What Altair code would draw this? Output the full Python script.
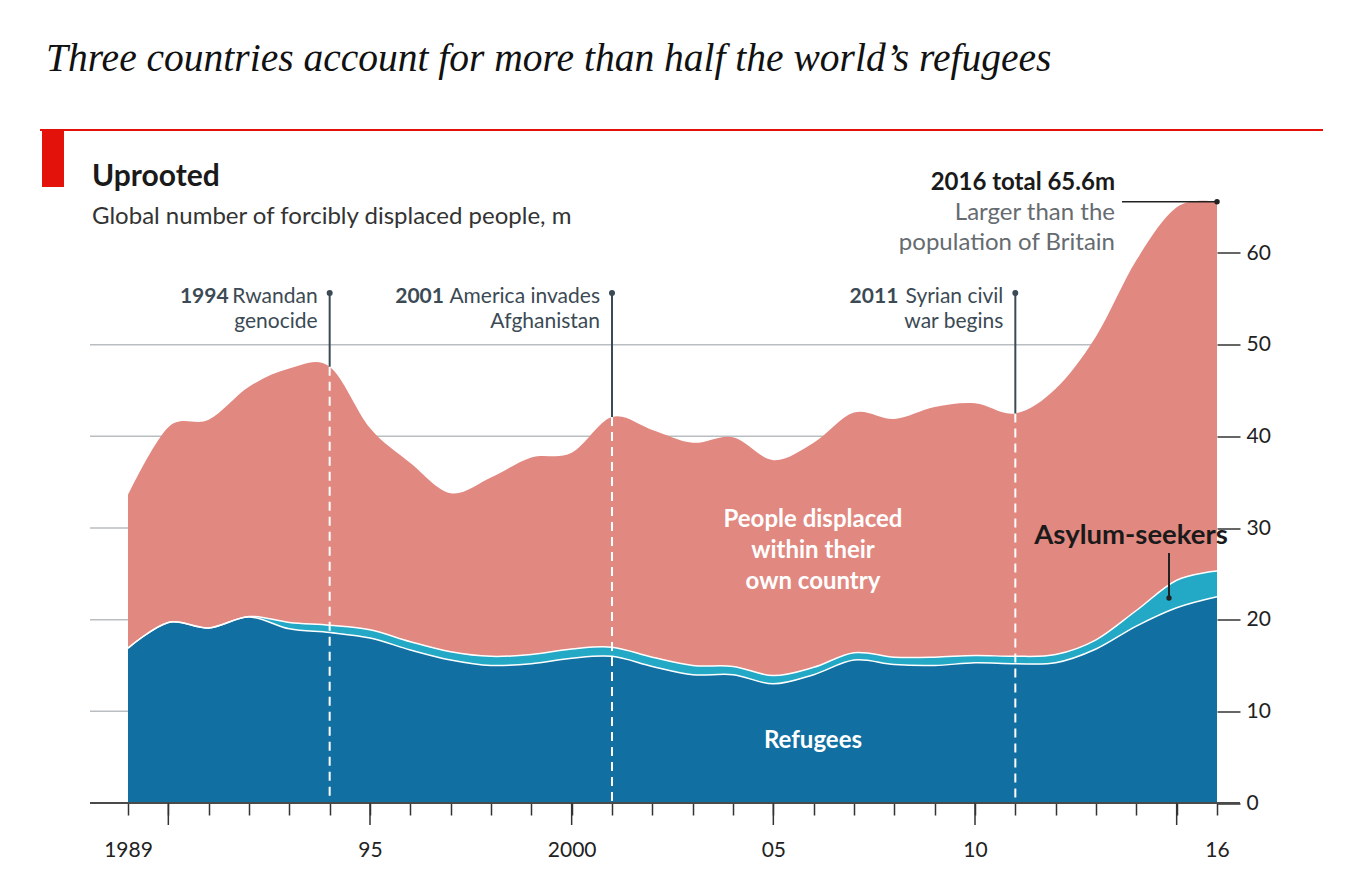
import altair as alt
import pandas as pd

# ---- data (millions) ----
years = list(range(1989, 2017))
refugees = [16.9, 19.7, 19.1, 20.3, 19.0, 18.6, 18.0, 16.7, 15.6, 15.0, 15.2, 15.8, 16.0, 14.9,
            14.0, 14.0, 13.0, 14.0, 15.6, 15.1, 15.0, 15.3, 15.2, 15.3, 16.8, 19.3, 21.3, 22.5]
asylum = [0.0, 0.0, 0.0, 0.05, 0.7, 0.8, 0.9, 0.9, 0.9, 1.0, 1.0, 1.0, 1.0, 1.0,
          1.0, 0.9, 0.9, 0.8, 0.8, 0.8, 0.9, 0.8, 0.8, 0.9, 1.0, 1.7, 3.0, 2.8]
total = [33.6, 41.0, 41.8, 45.4, 47.4, 47.6, 40.9, 37.1, 33.8, 35.5, 37.7, 38.2, 42.1, 40.7,
         39.3, 39.9, 37.4, 39.3, 42.6, 41.9, 43.2, 43.6, 42.5, 45.2, 50.9, 59.2, 65.0, 65.6]

event_years = [1994, 2001, 2011]
event_bold = ["1994", "2001", "2011"]
event_line1 = ["Rwandan", "America invades", "Syrian civil"]
event_line2 = ["genocide", "Afghanistan", "war begins"]

major_ticks = [1990, 1995, 2000, 2005, 2010, 2015]
y_ticks = [0, 10, 20, 30, 40, 50, 60]
grid_values = [10, 20, 30, 40, 50]

# ---- styling ----
REF = "#126fa1"
ASY = "#23a9c5"
IDP = "#e18880"
DARK = "#3b4a54"
SANS = "Lato"
INTERP = "cardinal"

W, H = 1127, 687.5

df = pd.DataFrame({"year": years, "refugees": refugees, "asylum": asylum, "total": total})
df["upper"] = df["refugees"] + df["asylum"]

ev = pd.DataFrame({"year": event_years, "bold": event_bold,
                   "line1": event_line1, "line2": event_line2})
ev = ev.merge(df[["year", "total"]], on="year")

xs = alt.Scale(domain=[1988.058, 2016], nice=False, zero=False)
ys = alt.Scale(domain=[0, 75], nice=False)

label_expr = ("datum.value == 1989 ? '1989' : datum.value == 1995 ? '95' : "
              "datum.value == 2000 ? '2000' : datum.value == 2005 ? '05' : "
              "datum.value == 2010 ? '10' : datum.value == 2016 ? '16' : ''")

x_axis = alt.Axis(values=years, tickSize=12, tickColor="#333", tickWidth=1.5, domain=False,
                  grid=False, labelExpr=label_expr, labelFont=SANS, labelFontSize=21,
                  labelColor="#222", labelPadding=24, labelOverlap=False, labelFlush=False,
                  title=None)
y_axis = alt.Axis(values=y_ticks, orient="right", tickSize=23, tickColor="#333", tickWidth=1.5,
                  domain=False, grid=False,
                  labelFont=SANS, labelFontSize=21, labelColor="#222", labelPadding=6,
                  title=None)


def X(field="year:Q"):
    return alt.X(field, scale=xs, axis=x_axis)


def Y(field, **kw):
    return alt.Y(field, scale=ys, axis=y_axis, **kw)


base = alt.Chart(df)

grid = alt.Chart(pd.DataFrame({"g": grid_values})).mark_rule(
    color="#b9bec2", strokeWidth=1.5).encode(
    y=Y("g:Q"), x=alt.value(0), x2=alt.value(W))

idp_area = base.mark_area(color=IDP, interpolate=INTERP).encode(
    x=X(), y=Y("total:Q"), y2="upper:Q"
)
asy_area = base.mark_area(color=ASY, interpolate=INTERP).encode(
    x=X(), y=Y("upper:Q"), y2="refugees:Q"
)
ref_area = base.mark_area(color=REF, interpolate=INTERP).encode(
    x=X(), y=Y("refugees:Q", stack=None)
)
line_ref = base.mark_line(color="white", strokeWidth=1.5, interpolate=INTERP).encode(
    x=X(), y=Y("refugees:Q")
)
line_up = base.mark_line(color="white", strokeWidth=1.5, interpolate=INTERP).encode(
    x=X(), y=Y("upper:Q")
)

baseline = alt.Chart(df).mark_rule(color="#4a4a4a", strokeWidth=2).encode(
    x=alt.value(0), x2=alt.value(1150), y=alt.value(H)
)
long_ticks = alt.Chart(pd.DataFrame({"year": major_ticks})).mark_rule(
    color="#333", strokeWidth=1.5).encode(x=X(), y=alt.value(H), y2=alt.value(H + 22))

evb = alt.Chart(ev)
dashed = evb.mark_rule(color="white", strokeWidth=2, strokeDash=[9, 6]).encode(
    x=X(), y=Y("total:Q"), y2=alt.value(H - 2)
)
pointer = evb.mark_rule(color=DARK, strokeWidth=2).encode(
    x=X(), y=Y("total:Q"), y2=alt.value(177.5)
)
pdot = evb.mark_point(filled=True, size=36, color=DARK, opacity=1).encode(
    x=X(), y=alt.value(177.5)
)
ev_l1 = evb.mark_text(align="right", baseline="middle", dx=-12, font=SANS, fontSize=21,
                      color=DARK).encode(x=X(), y=alt.value(181.5), text="line1:N")
ev_l2 = evb.mark_text(align="right", baseline="middle", dx=-12, font=SANS, fontSize=21,
                      color=DARK).encode(x=X(), y=alt.value(206.5), text="line2:N")
bold_dx = [-101, -168, -117]
ev_bold = [
    alt.Chart(ev[ev.year == yr]).mark_text(align="right", baseline="middle", dx=d, font=SANS,
                                           fontSize=21, fontWeight="bold", color=DARK).encode(
        x=X(), y=alt.value(181.5), text="bold:N")
    for yr, d in zip(event_years, bold_dx)
]

last = base.transform_filter("datum.year == 2016")
tot_rule = last.mark_rule(color="#222", strokeWidth=1.5).encode(
    x=X(), x2=alt.value(1032), y=Y("total:Q")
)
tot_dot = last.mark_point(filled=True, size=30, color="#222", opacity=1).encode(
    x=X(), y=Y("total:Q")
)


def txt(s, x, y, size, color="#222", weight="normal", align="left", font=SANS, style="normal"):
    return alt.Chart(pd.DataFrame({"t": [s]})).mark_text(
        align=align, baseline="middle", font=font, fontSize=size, fontWeight=weight,
        color=color, fontStyle=style).encode(x=alt.value(x), y=alt.value(y), text="t:N")


title = alt.Chart(pd.DataFrame({"t": ["Three countries account for more than half the world\u2019s refugees"]})).mark_text(
    align="left", baseline="alphabetic", font="Liberation Serif", fontSize=39.5, fontStyle="italic",
    color="#111").encode(x=alt.value(-44), y=alt.value(-44.5), text="t:N")

red_line = alt.Chart(df).mark_rule(color="#e3120b", strokeWidth=1.5).encode(
    x=alt.value(-50), x2=alt.value(1233), y=alt.value(14.5))
red_box = alt.Chart(df).mark_rect(color="#e3120b").encode(
    x=alt.value(-48), x2=alt.value(-26), y=alt.value(15), y2=alt.value(71.5))

texts = [
    txt("Uprooted", 2, 61.5, 30, "#1a1a1a", "bold"),
    txt("Global number of forcibly displaced people, m", 2, 101.5, 24, "#333"),
    txt("2016 total 65.6m", 1025, 67.5, 24, "#1a1a1a", "bold", "right"),
    txt("Larger than the", 1025, 97.5, 24, "#666b70", "normal", "right"),
    txt("population of Britain", 1025, 127.5, 24, "#666b70", "normal", "right"),
    txt("People displaced", 723, 404.5, 24, "white", "bold", "center"),
    txt("within their", 723, 435.5, 24, "white", "bold", "center"),
    txt("own country", 723, 466.5, 24, "white", "bold", "center"),
    txt("Refugees", 723, 625.5, 24, "white", "bold", "center"),
    txt("Asylum-seekers", 1041, 420.5, 27.5, "#1a1a1a", "bold", "center"),
]
asy_ptr = alt.Chart(df).mark_rule(color="#222", strokeWidth=1.5).encode(
    x=alt.value(1079), y=alt.value(437.5), y2=alt.value(482.5))
asy_dot = alt.Chart(pd.DataFrame({"a": [0]})).mark_point(
    filled=True, size=28, color="#222", opacity=1).encode(x=alt.value(1079), y=alt.value(482.5))

chart = alt.layer(
    grid, idp_area, asy_area, ref_area, line_ref, line_up, baseline, long_ticks,
    dashed, pointer, pdot, ev_l1, ev_l2, *ev_bold,
    tot_rule, tot_dot, title, red_line, red_box, *texts, asy_ptr, asy_dot,
).properties(
    width=W, height=H,
    autosize=alt.AutoSizeParams(type="none"),
    padding={"left": 82, "top": 107.5, "right": 127, "bottom": 81},
).configure_view(stroke=None)

chart.save("out.html", embed_options={"renderer": "svg", "actions": False})
